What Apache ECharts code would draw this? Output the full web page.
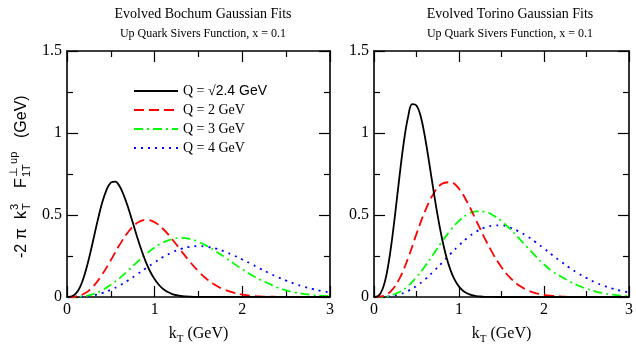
<!DOCTYPE html>
<html>
<head>
<meta charset="utf-8">
<script src="https://cdn.jsdelivr.net/npm/echarts@6/dist/echarts.min.js"></script>
<style>
  html, body { margin: 0; padding: 0; background: #fff; }
  #chart { width: 636px; height: 350px; }
</style>
</head>
<body>
<div id="chart"></div>
<script>
const kCoarse = [0, 0.1, 0.2, 0.3, 0.4, 0.5, 0.6, 0.7, 0.8, 0.9, 1.0, 1.1, 1.2, 1.3, 1.4, 1.5,
  1.6, 1.7, 1.8, 1.9, 2.0, 2.1, 2.2, 2.3, 2.4, 2.5, 2.6, 2.7, 2.8, 2.9, 3.0]
const kFine = [0, 0.05, 0.1, 0.15, 0.2, 0.25, 0.3, 0.35, 0.4, 0.45, 0.5, 0.55, 0.6, 0.65, 0.7, 0.75,
  0.8, 0.85, 0.9, 0.95, 1.0, 1.05, 1.1, 1.15, 1.2, 1.25, 1.3, 1.35, 1.4, 1.45, 1.5, 3.0]

const legendNames = ['Q = \u221a2.4 GeV', 'Q = 2 GeV', 'Q = 3 GeV', 'Q = 4 GeV']
const xTicks = [0, 1, 2, 3]
const yTicks = [0, 0.5, 1, 1.5]

// Bochum fits (left panel)
const bochumQ24 = [0, 0.003, 0.020, 0.062, 0.135, 0.234, 0.349, 0.467, 0.573, 0.652, 0.697, 0.704,
  0.675, 0.617, 0.541, 0.454, 0.366, 0.285, 0.213, 0.154, 0.108, 0.073, 0.047, 0.030, 0.018, 0.011,
  0.006, 0.0035, 0.002, 0.001, 0.0005, 0]
const bochumQ2 = [0, 0.003, 0.021, 0.065, 0.136, 0.225, 0.318, 0.398, 0.452, 0.471, 0.456, 0.413,
  0.352, 0.283, 0.216, 0.156, 0.107, 0.070, 0.044, 0.026, 0.015, 0.008, 0.004, 0.002, 0.001, 0,
  0, 0, 0, 0, 0]
const bochumQ3 = [0, 0.001, 0.006, 0.018, 0.041, 0.074, 0.115, 0.163, 0.213, 0.261, 0.302, 0.334,
  0.353, 0.360, 0.354, 0.336, 0.310, 0.278, 0.242, 0.205, 0.169, 0.136, 0.107, 0.082, 0.058, 0.041,
  0.028, 0.019, 0.012, 0.008, 0.005]
const bochumQ4 = [0, 0.0004, 0.003, 0.010, 0.024, 0.044, 0.070, 0.102, 0.138, 0.175, 0.211, 0.245,
  0.272, 0.293, 0.306, 0.310, 0.306, 0.295, 0.277, 0.254, 0.229, 0.202, 0.174, 0.147, 0.122, 0.100,
  0.080, 0.063, 0.049, 0.037, 0.028]

// Torino fits (right panel)
const torinoQ24 = [0, 0.006, 0.047, 0.144, 0.305, 0.512, 0.736, 0.942, 1.095, 1.176, 1.168, 1.100,
  0.974, 0.816, 0.650, 0.493, 0.357, 0.247, 0.164, 0.104, 0.063, 0.037, 0.021, 0.011, 0.006, 0.003,
  0.0013, 0.0005, 0.0002, 0, 0, 0]
const torinoQ2 = [0, 0.005, 0.036, 0.112, 0.235, 0.385, 0.522, 0.630, 0.690, 0.700, 0.660, 0.575,
  0.469, 0.361, 0.263, 0.181, 0.118, 0.073, 0.043, 0.024, 0.013, 0.007, 0.003, 0.001, 0, 0,
  0, 0, 0, 0, 0]
const torinoQ3 = [0, 0.001, 0.009, 0.030, 0.067, 0.121, 0.187, 0.262, 0.338, 0.407, 0.464, 0.504,
  0.522, 0.520, 0.499, 0.463, 0.415, 0.361, 0.305, 0.250, 0.199, 0.156, 0.125, 0.095, 0.070, 0.050,
  0.035, 0.023, 0.014, 0.009, 0.005]
const torinoQ4 = [0, 0.001, 0.005, 0.016, 0.037, 0.067, 0.107, 0.156, 0.209, 0.263, 0.315, 0.361,
  0.398, 0.423, 0.435, 0.437, 0.423, 0.401, 0.371, 0.335, 0.296, 0.255, 0.216, 0.179, 0.145, 0.116,
  0.090, 0.069, 0.052, 0.039, 0.028]

const serif = 'Liberation Serif'
const sans = 'Liberation Sans'

const lineStyles = [
  { color: '#000000', width: 1.8, type: 'solid' },
  { color: '#ff0000', width: 1.8, type: [10, 5] },
  { color: '#00ff00', width: 1.8, type: [9, 4, 2, 4] },
  { color: '#0000ff', width: 1.8, type: [2, 5] }
]

function pairs(ks, vals) {
  return vals.map((v, i) => [ks[i], v])
}

function makeSeries(gridIdx, sets) {
  return sets.map((s, i) => ({
    name: legendNames[i],
    type: 'line',
    xAxisIndex: gridIdx,
    yAxisIndex: gridIdx,
    data: pairs(s.k, s.v),
    showSymbol: false,
    symbol: 'none',
    smooth: 0.4,
    lineStyle: lineStyles[i],
    itemStyle: { color: lineStyles[i].color },
    silent: true,
    z: 10 - i
  }))
}

function xAxis(gridIdx, pos, labels) {
  return {
    type: 'value',
    gridIndex: gridIdx,
    position: pos,
    min: xTicks[0],
    max: xTicks[xTicks.length - 1],
    interval: 1,
    axisLine: { show: true, onZero: false, lineStyle: { color: '#000', width: 1.6 } },
    axisTick: { show: true, inside: true, length: 11, lineStyle: { color: '#000', width: 1.2 } },
    minorTick: { show: true, splitNumber: 2, length: 6, lineStyle: { color: '#000', width: 1.2 } },
    splitLine: { show: false },
    axisLabel: {
      show: labels,
      color: '#000',
      fontFamily: serif,
      fontSize: 16,
      margin: 5
    }
  }
}

function yAxis(gridIdx, pos, labels) {
  return {
    type: 'value',
    gridIndex: gridIdx,
    position: pos,
    min: yTicks[0],
    max: yTicks[yTicks.length - 1],
    interval: 0.5,
    axisLine: { show: true, onZero: false, lineStyle: { color: '#000', width: 1.6 } },
    axisTick: { show: true, inside: true, length: 11, lineStyle: { color: '#000', width: 1.2 } },
    minorTick: { show: true, splitNumber: 2, length: 6, lineStyle: { color: '#000', width: 1.2 } },
    splitLine: { show: false },
    axisLabel: {
      show: labels,
      color: '#000',
      fontFamily: serif,
      fontSize: 16,
      margin: 5
    }
  }
}

const chart = echarts.init(document.getElementById('chart'), null, { renderer: 'canvas' })

const xName = {
  name: '{a|k}{b|T}{a| (GeV)}',
  nameLocation: 'middle',
  nameGap: 26,
  nameTextStyle: {
    rich: {
      a: { fontFamily: serif, fontSize: 16, color: '#000', lineHeight: 22, verticalAlign: 'middle' },
      b: { fontFamily: serif, fontSize: 11, color: '#000', lineHeight: 22, verticalAlign: 'bottom' }
    }
  }
}

const option = {
  animation: false,
  backgroundColor: '#fff',
  title: [
    {
      text: 'Evolved Bochum Gaussian Fits',
      subtext: 'Up Quark Sivers Function, x = 0.1',
      left: 198,
      top: 2,
      textAlign: 'center',
      itemGap: 7,
      textStyle: { fontFamily: serif, fontSize: 14, fontWeight: 'normal', color: '#000' },
      subtextStyle: { fontFamily: serif, fontSize: 12, color: '#000' }
    },
    {
      text: 'Evolved Torino Gaussian Fits',
      subtext: 'Up Quark Sivers Function, x = 0.1',
      left: 505,
      top: 2,
      textAlign: 'center',
      itemGap: 7,
      textStyle: { fontFamily: serif, fontSize: 14, fontWeight: 'normal', color: '#000' },
      subtextStyle: { fontFamily: serif, fontSize: 12, color: '#000' }
    }
  ],
  legend: {
    data: legendNames,
    orient: 'vertical',
    left: 128,
    top: 79,
    itemWidth: 44,
    itemHeight: 14,
    itemGap: 5,
    selectedMode: false,
    itemStyle: { opacity: 0 },
    formatter: name => name.indexOf('\u221a') >= 0 ? 'Q = \u221a{s|2.4 GeV}' : name,
    textStyle: {
      fontFamily: serif,
      fontSize: 14,
      color: '#000',
      rich: { s: { fontFamily: sans, fontSize: 14, color: '#000' } }
    }
  },
  grid: [
    { left: 67, top: 51, width: 263, height: 248, containLabel: false },
    { left: 374, top: 51, width: 264, height: 248, containLabel: false }
  ],
  xAxis: [
    Object.assign(xAxis(0, 'bottom', true), xName),
    Object.assign(xAxis(1, 'bottom', true), xName),
    xAxis(0, 'top', false),
    xAxis(1, 'top', false)
  ],
  yAxis: [
    yAxis(0, 'left', true),
    yAxis(1, 'left', true),
    yAxis(0, 'right', false),
    yAxis(1, 'right', false)
  ],
  series: [
    ...makeSeries(0, [
      { k: kFine, v: bochumQ24 },
      { k: kCoarse, v: bochumQ2 },
      { k: kCoarse, v: bochumQ3 },
      { k: kCoarse, v: bochumQ4 }
    ]),
    ...makeSeries(1, [
      { k: kFine, v: torinoQ24 },
      { k: kCoarse, v: torinoQ2 },
      { k: kCoarse, v: torinoQ3 },
      { k: kCoarse, v: torinoQ4 }
    ])
  ],
  graphic: [
    {
      type: 'group',
      x: 22,
      y: 258,
      rotation: Math.PI / 2,
      children: [
        { type: 'text', x: 0, y: 0, style: { text: '-2 \u03c0', fontFamily: sans, fontSize: 16, fill: '#000', verticalAlign: 'middle' } },
        { type: 'text', x: 39, y: 0, style: { text: 'k', fontFamily: sans, fontSize: 16, fill: '#000', verticalAlign: 'middle' } },
        { type: 'text', x: 48, y: 5, style: { text: 'T', fontFamily: sans, fontSize: 11, fill: '#000', verticalAlign: 'middle' } },
        { type: 'text', x: 48, y: -7, style: { text: '3', fontFamily: sans, fontSize: 11, fill: '#000', verticalAlign: 'middle' } },
        { type: 'text', x: 70, y: 0, style: { text: 'F', fontFamily: sans, fontSize: 16, fill: '#000', verticalAlign: 'middle' } },
        { type: 'text', x: 81, y: 5, style: { text: '1T', fontFamily: sans, fontSize: 11, fill: '#000', verticalAlign: 'middle' } },
        { type: 'text', x: 81, y: -8, style: { text: '\u22a5 up', fontFamily: sans, fontSize: 11, fill: '#000', verticalAlign: 'middle' } },
        { type: 'text', x: 120, y: 0, style: { text: '(GeV)', fontFamily: sans, fontSize: 16, fill: '#000', verticalAlign: 'middle' } }
      ]
    }
  ]
}

chart.setOption(option)
</script>
</body>
</html>
